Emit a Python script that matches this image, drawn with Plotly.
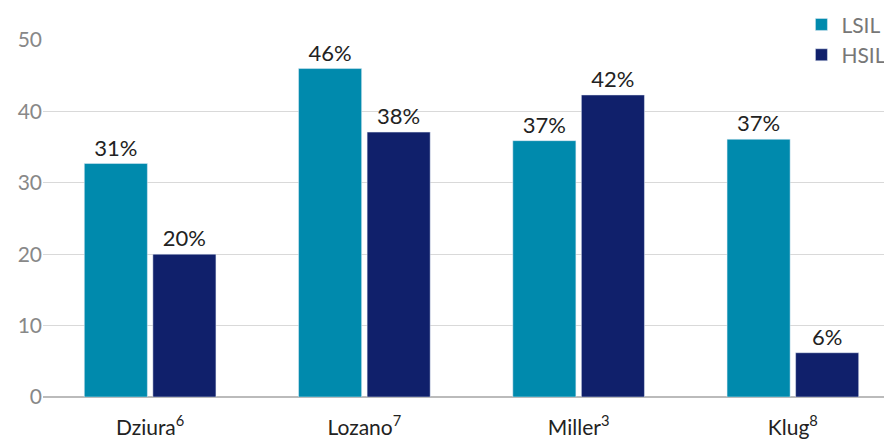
import plotly.graph_objects as go

categories = ["Dziura<sup>6</sup>", "Lozano<sup>7</sup>", "Miller<sup>3</sup>", "Klug<sup>8</sup>"]
lsil = [32.7, 46.0, 35.9, 36.1]
hsil = [20.0, 37.1, 42.3, 6.2]
lsil_labels = ["31%", "46%", "37%", "37%"]
hsil_labels = ["20%", "38%", "42%", "6%"]

font = "Lato, Open Sans, sans-serif"
fig = go.Figure()
fig.add_bar(x=categories, y=lsil, name="LSIL", marker_color="#008AAD",
            text=lsil_labels, textposition="outside", cliponaxis=False,
            textfont=dict(size=22, color="#222"))
fig.add_bar(x=categories, y=hsil, name="HSIL", marker_color="#10206B",
            text=hsil_labels, textposition="outside", cliponaxis=False,
            textfont=dict(size=22, color="#222"))
fig.update_layout(
    width=892, height=443, margin=dict(l=35, r=0, t=32, b=54, autoexpand=False),
    paper_bgcolor="white", plot_bgcolor="white",
    font=dict(family=font, size=20, color="#222"),
    barmode="group", bargap=0.36, bargroupgap=0.08,
    legend=dict(x=0.99, y=1.1, xanchor="right", yanchor="top",
                font=dict(size=21, color="#777"), itemwidth=30,
                tracegroupgap=0, bgcolor="rgba(0,0,0,0)"),
    yaxis=dict(range=[0, 50], dtick=10, gridcolor="#d9d9d9", zeroline=True,
               zerolinecolor="#bbb", tickfont=dict(color="#888", size=21)),
    xaxis=dict(tickfont=dict(size=21, color="#222"), ticks="outside",
               ticklen=12, tickcolor="rgba(0,0,0,0)"),
)
fig.write_html("out.html")
